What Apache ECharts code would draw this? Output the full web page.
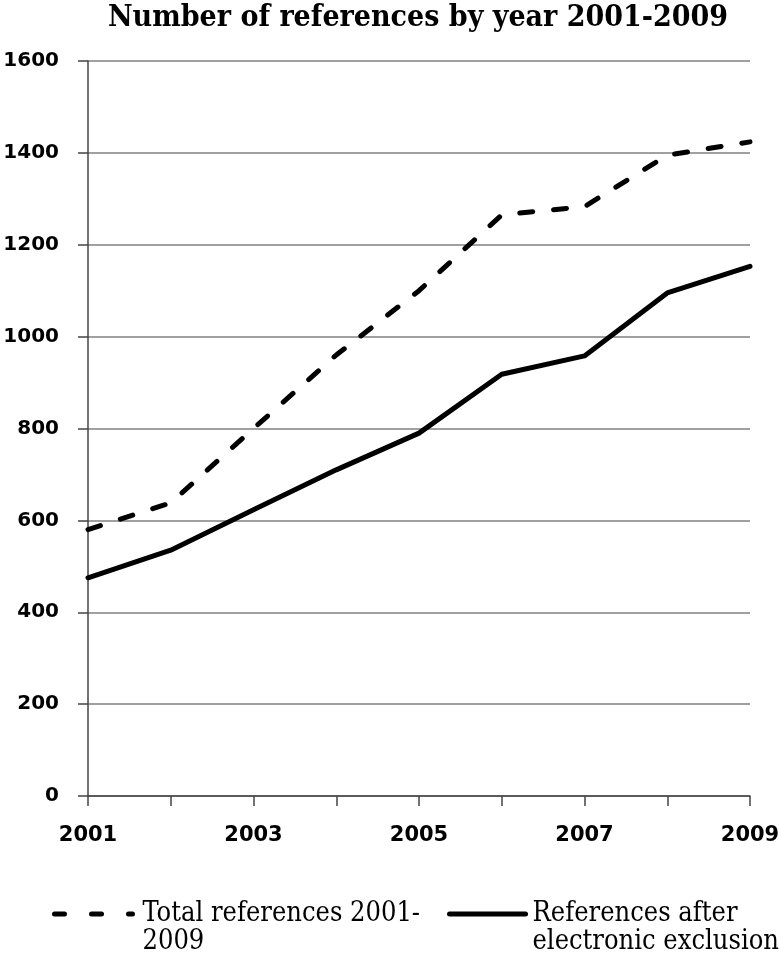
<!DOCTYPE html>
<html>
<head>
<meta charset="utf-8">
<script src="https://cdn.jsdelivr.net/npm/echarts@6/dist/echarts.min.js"></script>
<style>
html,body{margin:0;padding:0;background:#fff;}
#chart{width:779px;height:953px;}
</style>
</head>
<body>
<div id="chart"></div>
<script>
var years = ['2001','2002','2003','2004','2005','2006','2007','2008','2009'];
var totalRefs = [580, 638, 800, 960, 1100, 1265, 1283, 1395, 1424];
var afterExclusion = [475, 535, 623, 710, 790, 918, 958, 1095, 1153];
var seriesNames = ['Total references 2001-2009', 'References after electronic exclusion'];
var legendLabels = ['Total references 2001-\n2009', 'References after\nelectronic exclusion'];
var titleText = 'Number of references by year 2001-2009';

var serif = '"DejaVu Serif Condensed", "Liberation Serif", serif';
var sans = '"DejaVu Sans", sans-serif';

var chart = echarts.init(document.getElementById('chart'), null, {renderer: 'canvas'});
var dashPattern = [13, 21];
function legendCfg(i, left, width, gapPad) {
  return {
    data: [seriesNames[i]],
    left: left,
    top: 872,
    padding: 0,
    itemWidth: width,
    itemHeight: 14,
    formatter: function(){ return ' \n' + legendLabels[i]; },
    lineStyle: i === 0
      ? {width: 5, type: [10, 27], cap: 'round', color: '#000'}
      : {width: 5, type: 'solid', cap: 'round', color: '#000'},
    itemStyle: {color: 'rgba(0,0,0,0)', borderWidth: 0, opacity: 0},
    textStyle: {fontFamily: serif, fontSize: 27, color: '#000', lineHeight: 28, padding: [0, 0, 0, gapPad]}
  };
}
chart.setOption({
  animation: false,
  backgroundColor: '#ffffff',
  title: {
    text: titleText,
    left: 418,
    textAlign: 'center',
    top: 3,
    padding: [0, 0, 0, 0],
    textStyle: {fontFamily: serif, fontWeight: 'bold', fontSize: 30, color: '#000'}
  },
  legend: [legendCfg(0, 52, 78, 5), legendCfg(1, 447, 76, 2)],
  grid: {left: 88, right: 29, top: 61, bottom: 157, outerBoundsMode: 'none', containLabel: false},
  xAxis: {
    type: 'category',
    data: years,
    boundaryGap: false,
    axisLine: {lineStyle: {color: '#444', width: 1.5}},
    axisTick: {show: true, length: 10, interval: 0, lineStyle: {color: '#444', width: 1.5}},
    axisLabel: {interval: 1, margin: 29, fontFamily: sans, fontWeight: 'bold', fontSize: 21, color: '#000'},
    splitLine: {show: false}
  },
  yAxis: {
    type: 'value',
    min: 0,
    max: 1600,
    interval: 200,
    axisLine: {show: true, lineStyle: {color: '#444', width: 1.5}},
    axisTick: {show: true, length: 10, lineStyle: {color: '#444', width: 1.5}},
    axisLabel: {margin: 29, fontFamily: sans, fontWeight: 'bold', fontSize: 20, color: '#000',
      formatter: function(v){ return String(v); }},
    splitLine: {show: true, lineStyle: {color: '#808080', width: 1.5}}
  },
  series: [
    {
      name: seriesNames[0],
      type: 'line',
      data: totalRefs,
      symbol: 'none',
      lineStyle: {color: '#000', width: 5, type: dashPattern, cap: 'round', join: 'round'},
      itemStyle: {color: '#000'}
    },
    {
      name: seriesNames[1],
      type: 'line',
      data: afterExclusion,
      symbol: 'none',
      lineStyle: {color: '#000', width: 5, type: 'solid', cap: 'round', join: 'round'},
      itemStyle: {color: '#000'}
    }
  ]
});
</script>
</body>
</html>
